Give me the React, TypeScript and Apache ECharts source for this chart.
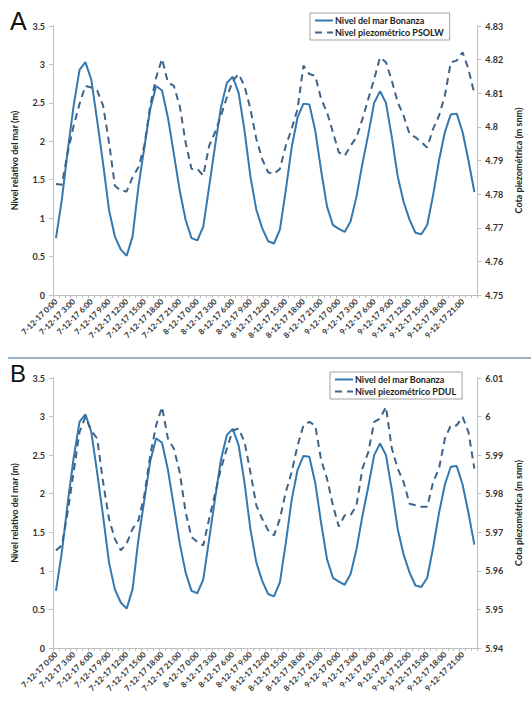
import React, { useEffect, useRef } from "react";
import * as echarts from "echarts";

const days = [7, 8, 9];
const hours = Array.from({ length: 24 }, (_, h) => h);
const categories: string[] = [];
days.forEach((d) => hours.forEach((h) => categories.push(`${d}-12-17 ${h}:00`)));

const seaLevel = [
  0.74, 1.24, 1.88, 2.46, 2.93, 3.03, 2.8, 2.27, 1.71, 1.11, 0.76, 0.59, 0.51, 0.76, 1.41, 1.92, 2.42, 2.72, 2.66, 2.31, 1.84, 1.36, 0.98, 0.74,
  0.71, 0.89, 1.41, 1.94, 2.44, 2.76, 2.84, 2.63, 2.14, 1.54, 1.11, 0.87, 0.7, 0.67, 0.85, 1.36, 1.92, 2.31, 2.49, 2.48, 2.14, 1.62, 1.15, 0.91,
  0.86, 0.82, 0.96, 1.28, 1.71, 2.09, 2.5, 2.65, 2.5, 2.05, 1.54, 1.21, 0.98, 0.81, 0.79, 0.91, 1.3, 1.75, 2.12, 2.35, 2.36, 2.12, 1.75, 1.34,
];

const psolw = [
  4.783, 4.7828, 4.7924, 4.8003, 4.8068, 4.8122, 4.8117, 4.8108, 4.8063, 4.7954, 4.7825, 4.781, 4.7808, 4.785, 4.788, 4.7944, 4.8063, 4.8147, 4.8202, 4.8132, 4.8122, 4.8063, 4.7954, 4.7875,
  4.7875, 4.7855, 4.7944, 4.7984, 4.8033, 4.8088, 4.8137, 4.8157, 4.8122, 4.8053, 4.7964, 4.7904, 4.7865, 4.786, 4.7875, 4.7944, 4.7994, 4.8053, 4.8182, 4.8157, 4.8152, 4.8083, 4.8043, 4.7984,
  4.7924, 4.7914, 4.7944, 4.7969, 4.8023, 4.8083, 4.8142, 4.8207, 4.8192, 4.8137, 4.8073, 4.8033, 4.7979, 4.7969, 4.7954, 4.7939, 4.7994, 4.8033, 4.8093, 4.8192, 4.8197, 4.8222, 4.8172, 4.8098,
];

const pdul = [
  5.9653, 5.9666, 5.9753, 5.9856, 5.996, 5.9999, 5.9964, 5.9943, 5.983, 5.9735, 5.9683, 5.9653, 5.9671, 5.9709, 5.9731, 5.9796, 5.99, 5.9977, 6.0025, 5.9943, 5.9917, 5.9856, 5.9753, 5.9688,
  5.9675, 5.9666, 5.9735, 5.98, 5.9865, 5.9917, 5.9964, 5.9969, 5.9934, 5.9856, 5.977, 5.9735, 5.9705, 5.9692, 5.9735, 5.9804, 5.9856, 5.9925, 5.9977, 5.9986, 5.9977, 5.9887, 5.9839, 5.977,
  5.9715, 5.9744, 5.9744, 5.977, 5.9865, 5.9908, 5.9986, 5.9995, 6.0025, 5.9917, 5.9865, 5.983, 5.9774, 5.977, 5.9766, 5.9766, 5.983, 5.9865, 5.9943, 5.9977, 5.9977, 5.9999, 5.996, 5.9865,
];

const SEA_NAME = "Nivel del mar Bonanza";
const PSOLW_NAME = "Nivel piezométrico PSOLW";
const PDUL_NAME = "Nivel piezométrico PDUL";

const FONT = "Lato, 'Open Sans', sans-serif";
const AXIS_COLOR = "#bfbfbf";
const TEXT_COLOR = "#333333";
const SOLID_COLOR = "#3478b0";
const DASH_COLOR = "#3d6488";

const fmt = (v: number) => String(parseFloat(v.toFixed(2)));

function xAxis(gridIndex: number) {
  return {
    type: "category",
    gridIndex,
    data: categories,
    boundaryGap: true,
    axisLine: { show: true, lineStyle: { color: AXIS_COLOR, width: 1 } },
    axisTick: { show: true, interval: 0, length: 3, lineStyle: { color: AXIS_COLOR } },
    axisLabel: {
      interval: 2,
      rotate: 45,
      fontSize: 8,
      fontWeight: "bold",
      fontFamily: FONT,
      color: TEXT_COLOR,
      margin: 5,
    },
    splitLine: { show: false },
  };
}

function yAxis(gridIndex: number, position: string, min: number, max: number, interval: number, name: string) {
  return {
    type: "value",
    gridIndex,
    position,
    min,
    max,
    interval,
    name,
    nameLocation: "middle",
    nameRotate: 90,
    nameGap: position === "left" ? 34 : 36,
    nameTextStyle: { fontSize: 9, fontWeight: "bold", fontFamily: FONT, color: "#222" },
    axisLine: { show: true, lineStyle: { color: AXIS_COLOR, width: 1 } },
    axisTick: { show: true, length: 4, lineStyle: { color: AXIS_COLOR } },
    axisLabel: {
      fontSize: 9,
      fontWeight: "bold",
      fontFamily: FONT,
      color: TEXT_COLOR,
      margin: 8,
      formatter: (v: number) => fmt(v),
    },
    splitLine: { show: false },
  };
}

function legend(names: string[], left: number, top: number) {
  return {
    orient: "vertical",
    left,
    top,
    data: names,
    borderColor: "#a0a0a0",
    borderWidth: 1,
    padding: [3, 6, 3, 4],
    itemGap: 3,
    itemWidth: 18,
    itemHeight: 8,
    itemStyle: { opacity: 0 },
    textStyle: { fontSize: 9, fontWeight: "bold", fontFamily: FONT, color: "#222", padding: [0, 0, 0, -3] },
  };
}

export default function App() {
  const ref = useRef<HTMLDivElement>(null);

  useEffect(() => {
    if (!ref.current) return;
    const chart = echarts.init(ref.current, undefined, { renderer: "svg" });
    const solid = { color: SOLID_COLOR, width: 2, type: "solid" };
    const dashed = { color: DASH_COLOR, width: 2, type: [7, 5] };
    chart.setOption({
      animation: false,
      backgroundColor: "#ffffff",
      grid: [
        { left: 53, right: 46, top: 26, height: 269 },
        { left: 53, right: 46, top: 378, height: 270 },
      ],
      xAxis: [xAxis(0), xAxis(1)],
      yAxis: [
        yAxis(0, "left", 0, 3.5, 0.5, "Nivel relativo del mar (m)"),
        yAxis(0, "right", 4.75, 4.83, 0.01, "Cota piezométrica (m snm)"),
        yAxis(1, "left", 0, 3.5, 0.5, "Nivel relativo del mar (m)"),
        yAxis(1, "right", 5.94, 6.01, 0.01, "Cota piezométrica (m snm)"),
      ],
      legend: [
        legend([SEA_NAME, PSOLW_NAME], 310, 13),
        legend([SEA_NAME, PDUL_NAME], 330, 372),
      ],
      series: [
        { name: SEA_NAME, type: "line", xAxisIndex: 0, yAxisIndex: 0, data: seaLevel, symbol: "none", lineStyle: solid, itemStyle: { color: SOLID_COLOR } },
        { name: PSOLW_NAME, type: "line", xAxisIndex: 0, yAxisIndex: 1, data: psolw, symbol: "none", lineStyle: dashed, itemStyle: { color: DASH_COLOR } },
        { name: SEA_NAME, type: "line", xAxisIndex: 1, yAxisIndex: 2, data: seaLevel, symbol: "none", lineStyle: solid, itemStyle: { color: SOLID_COLOR } },
        { name: PDUL_NAME, type: "line", xAxisIndex: 1, yAxisIndex: 3, data: pdul, symbol: "none", lineStyle: dashed, itemStyle: { color: DASH_COLOR } },
      ],
      graphic: [
        { type: "text", left: 10, top: 8, style: { text: "A", fontSize: 25, fontFamily: "'Liberation Sans', Arial, sans-serif", fill: "#111" } },
        { type: "text", left: 10, top: 361, style: { text: "B", fontSize: 24, fontFamily: "'Liberation Sans', Arial, sans-serif", fill: "#111" } },
        { type: "line", shape: { x1: 8, y1: 358, x2: 531, y2: 358 }, style: { stroke: "#9bb1c6", lineWidth: 2 } },
      ],
    });
    return () => chart.dispose();
  }, []);

  return <div ref={ref} style={{ position: "absolute", left: 0, top: 0, width: 531, height: 702 }} />;
}
